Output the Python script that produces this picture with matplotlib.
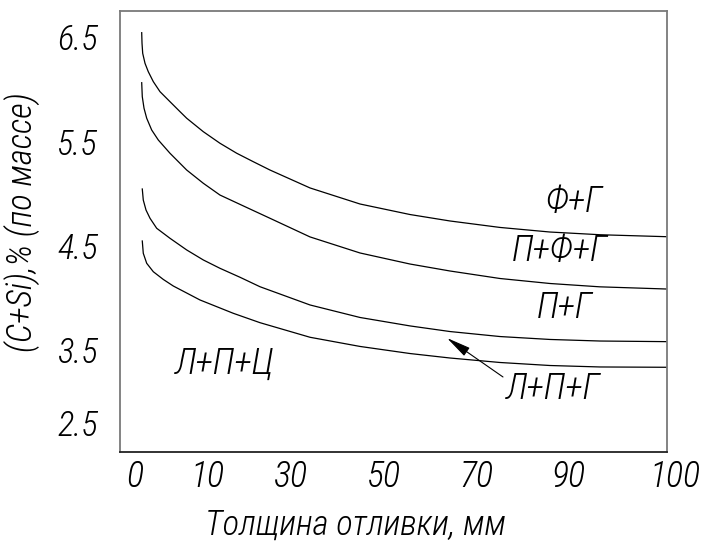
import matplotlib
matplotlib.use("Agg")
import matplotlib.pyplot as plt
from matplotlib.transforms import blended_transform_factory

plt.rcParams['font.family'] = ['Roboto Condensed', 'DejaVu Sans']
plt.rcParams['font.style'] = 'italic'
plt.rcParams['font.stretch'] = 'condensed'
plt.rcParams['font.weight'] = 'light'
plt.rcParams['axes.labelweight'] = 'light'

# ---- data (x in normalized thickness units 0..100) ----
x_fg = [0.04, 0.1, 0.23, 0.67, 1.29, 2.25, 3.52, 5.42, 7.33, 8.6, 11.76, 14.93, 18.12,
        21.27, 24.45, 32.07, 41.58, 51.09, 58.71, 68.22, 77.74, 87.25, 100]
y_fg = [6.546, 6.444, 6.348, 6.252, 6.172, 6.076, 5.980, 5.884, 5.788, 5.725, 5.596,
        5.485, 5.389, 5.308, 5.228, 5.056, 4.902, 4.801, 4.739, 4.677, 4.633, 4.607, 4.588]

x_pfg = [0.04, 0.15, 0.48, 0.99, 1.94, 3.2, 5.42, 8.6, 11.76, 14.93, 19.7, 24.45, 32.07,
         41.58, 51.09, 58.71, 68.22, 77.74, 87.25, 100]
y_pfg = [6.066, 5.932, 5.821, 5.725, 5.612, 5.516, 5.389, 5.228, 5.101, 4.988, 4.876,
         4.765, 4.586, 4.432, 4.326, 4.259, 4.187, 4.139, 4.107, 4.086]

x_pg = [0.15, 0.34, 0.86, 1.62, 2.89, 5.42, 8.6, 11.76, 14.93, 18.74, 22.55, 32.07,
        41.58, 51.09, 58.71, 68.22, 77.74, 87.25, 100]
y_pg = [5.046, 4.94, 4.844, 4.765, 4.669, 4.573, 4.461, 4.365, 4.285, 4.199, 4.108,
        3.933, 3.813, 3.732, 3.678, 3.630, 3.602, 3.587, 3.581]

x_lpg = [0.15, 0.34, 0.99, 2.25, 4.15, 6.05, 11.13, 17.47, 22.55, 32.07, 41.58, 51.09,
         58.71, 68.22, 77.74, 87.25, 100]
y_lpg = [4.547, 4.429, 4.333, 4.252, 4.178, 4.115, 3.981, 3.853, 3.763, 3.623, 3.535,
         3.467, 3.424, 3.381, 3.352, 3.338, 3.335]

x_tick_pos = [-1.24, 12.46, 28.26, 46.15, 63.65, 81.16, 101.5]
x_tick_labels = ['0', '10', '30', '50', '70', '90', '100']
y_tick_pos = [6.5, 5.5, 4.5, 3.5, 2.8]
y_tick_labels = ['6.5', '5.5', '4.5', '3.5', '2.5']

region_labels = ['Ф+Г', 'П+Ф+Г', 'П+Г', 'Л+П+Г', 'Л+П+Ц']
region_x = [82.3, 79.64, 80.59, 78.31, 15.89]
region_y = [4.921, 4.451, 3.904, 3.127, 3.367]

# ---- figure ----
fig = plt.figure(figsize=(7.01, 5.48), dpi=100)
ax = fig.add_axes([120 / 701, 1 - 452 / 548, 547 / 701, (452 - 10.7) / 548])

for xs, ys in [(x_fg, y_fg), (x_pfg, y_pfg), (x_pg, y_pg), (x_lpg, y_lpg)]:
    ax.plot(xs, ys, color='black', lw=0.9)

ax.set_xlim(-4.09, 100)
ax.set_ylim(2.522, 6.757)

for side in ['left', 'top', 'right']:
    ax.spines[side].set_color('#7a7a7a')
    ax.spines[side].set_linewidth(1.3)
ax.spines['bottom'].set_color('#222222')
ax.spines['bottom'].set_linewidth(1.3)

ax.set_xticks([])
trans = blended_transform_factory(ax.transData, ax.transAxes)
for xp, lab in zip(x_tick_pos, x_tick_labels):
    ax.text(xp, -0.057, lab, transform=trans, ha='center', va='center',
            fontsize=26, clip_on=False)

ax.set_yticks(y_tick_pos)
ax.set_yticklabels(y_tick_labels, fontsize=25)
ax.tick_params(axis='y', length=0, pad=16)

ax.set_xlabel('Толщина отливки, мм', fontsize=25, va='center', fontweight='light')
ax.xaxis.set_label_coords(0.4296, -0.1654)
ax.set_ylabel('(C+Si),% (по массе)', fontsize=25, va='center', fontweight='light')
ax.yaxis.set_label_coords(-0.179, 0.522)

for lab, xr, yr in zip(region_labels, region_x, region_y):
    ax.text(xr, yr, lab, ha='center', va='center', fontsize=26)

ax.annotate('', xy=(58.13, 3.616), xytext=(68.79, 3.242),
            arrowprops=dict(arrowstyle='-|>,head_length=1.5,head_width=0.3',
                            color='black', lw=0.8, shrinkA=0, shrinkB=0))

fig.savefig('out.png', dpi=100)
